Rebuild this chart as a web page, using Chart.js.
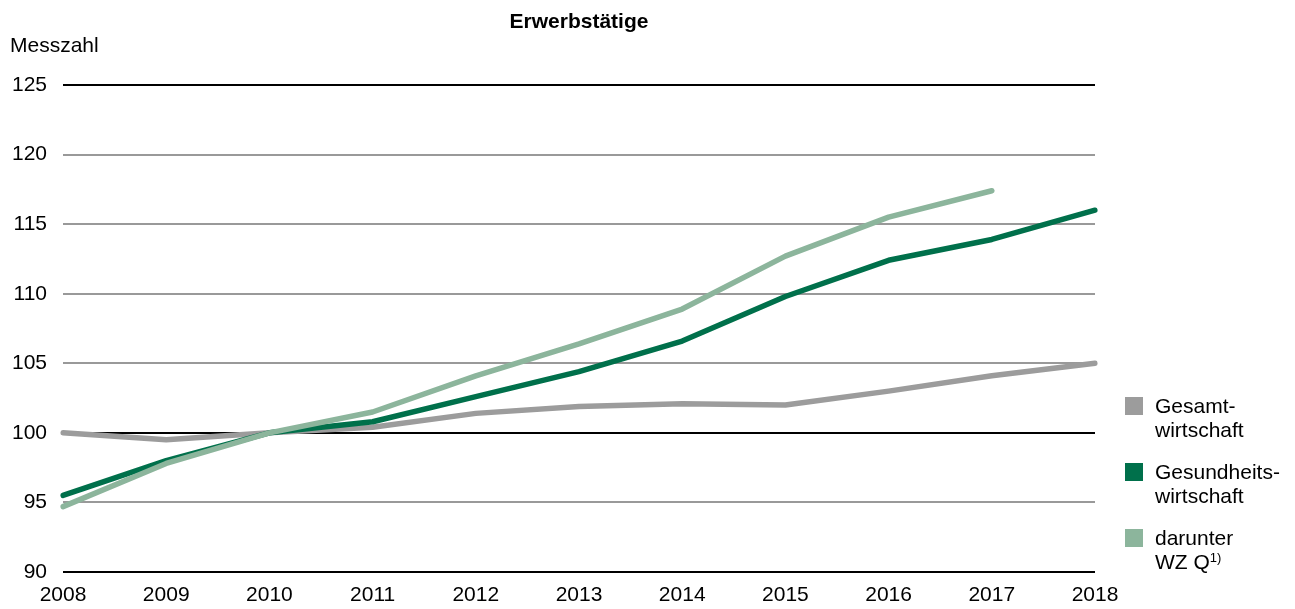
<!DOCTYPE html>
<html lang="de">
<head>
<meta charset="utf-8">
<title>Erwerbstätige</title>
<script src="https://cdn.jsdelivr.net/npm/chart.js@4/dist/chart.umd.min.js"></script>
<style>
    html, body { margin: 0; padding: 0; background: #fff; }
    body { width: 1295px; height: 609px; position: relative; overflow: hidden;
           font-family: "Liberation Sans", Arial, sans-serif; color: #000; }
    #wrap { position: absolute; left: 0; top: 0; width: 1295px; height: 609px; }
    .title { position: absolute; top: 9px; left: 63px; width: 1032px; text-align: center;
             font-weight: bold; font-size: 21px; }
    .unit { position: absolute; top: 33px; left: 10px; font-size: 21px; }
    .legend { position: absolute; left: 1125px; top: 394px; font-size: 21px; line-height: 24px; }
    .legend .item { position: relative; padding-left: 30px; height: 66px; }
    .legend .box { position: absolute; left: 0; top: 3px; width: 18px; height: 18px; }
    .legend sup { font-size: 13px; vertical-align: 7px; line-height: 0; }
</style>
</head>
<body>
<div id="wrap"><canvas id="chart" width="1295" height="609"></canvas></div>
<div class="title">Erwerbstätige</div>
<div class="unit">Messzahl</div>
<div class="legend" id="legend"></div>
<script>
// --- Daten ---
const years = ['2008', '2009', '2010', '2011', '2012', '2013', '2014', '2015', '2016', '2017', '2018'];
const gesamtwirtschaft = [100, 99.5, 100, 100.4, 101.4, 101.9, 102.1, 102.0, 103.0, 104.1, 105.0];
const gesundheitswirtschaft = [95.5, 98.0, 100, 100.8, 102.6, 104.4, 106.6, 109.8, 112.4, 113.9, 116.0];
const wzQ = [94.7, 97.8, 100, 101.5, 104.1, 106.4, 108.9, 112.7, 115.5, 117.4, null];
const yTicks = [90, 95, 100, 105, 110, 115, 120, 125];
const blackLines = [90, 100, 125];

const colors = {
    gesamt: '#9c9c9c',
    gesundheit: '#00704b',
    wzq: '#8cb59c'
};

// --- Legende (HTML) ---
const legendItems = [
    { color: colors.gesamt, html: 'Gesamt-<br>wirtschaft' },
    { color: colors.gesundheit, html: 'Gesundheits-<br>wirtschaft' },
    { color: colors.wzq, html: 'darunter<br>WZ Q<sup>1)</sup>' }
];
const legendEl = document.getElementById('legend');
legendItems.forEach(item => {
    const div = document.createElement('div');
    div.className = 'item';
    div.innerHTML = `<span class="box" style="background:${item.color}"></span>${item.html}`;
    legendEl.appendChild(div);
});

function lineDataset(label, data, color, order) {
    return {
        label: label,
        data: data,
        borderColor: color,
        backgroundColor: color,
        borderWidth: 5.5,
        borderCapStyle: 'round',
        borderJoinStyle: 'round',
        pointRadius: 0,
        pointHoverRadius: 0,
        tension: 0,
        spanGaps: false,
        order: order
    };
}

const tickFont = { family: '"Liberation Sans", Arial, sans-serif', size: 21 };

const ctx = document.getElementById('chart').getContext('2d');
new Chart(ctx, {
    type: 'line',
    data: {
        labels: years,
        datasets: [
            lineDataset('Gesamtwirtschaft', gesamtwirtschaft, colors.gesamt, 3),
            lineDataset('Gesundheitswirtschaft', gesundheitswirtschaft, colors.gesundheit, 2),
            lineDataset('darunter WZ Q', wzQ, colors.wzq, 1)
        ]
    },
    options: {
        responsive: false,
        animation: false,
        layout: { padding: { left: 0, right: 200, top: 85, bottom: 0 } },
        plugins: {
            legend: { display: false },
            title: { display: false },
            tooltip: { enabled: false }
        },
        scales: {
            x: {
                offset: false,
                grid: { display: false, drawTicks: false },
                border: { display: false },
                ticks: {
                    color: '#000',
                    font: tickFont,
                    padding: 11,
                    maxRotation: 0,
                    autoSkip: false
                },
                afterFit: (scale) => { scale.height = 37; }
            },
            y: {
                min: 90,
                max: 125,
                afterBuildTicks: (scale) => {
                    scale.ticks = yTicks.map(v => ({ value: v }));
                },
                grid: {
                    drawTicks: false,
                    lineWidth: 2,
                    color: (c) => blackLines.includes(c.tick.value) ? '#000' : '#999'
                },
                border: { display: false },
                ticks: {
                    color: '#000',
                    font: tickFont,
                    padding: 16
                },
                afterFit: (scale) => { scale.width = 63; }
            }
        }
    }
});
</script>
</body>
</html>
